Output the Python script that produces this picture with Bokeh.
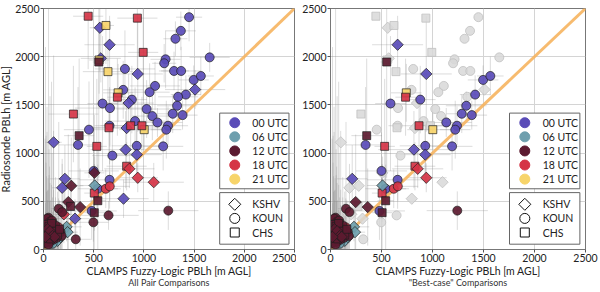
import numpy as np
import pandas as pd
from bokeh.plotting import figure
from bokeh.models import ColumnDataSource, FixedTicker, Range1d, LinearAxis
from bokeh.layouts import row
from bokeh.embed import file_html
from bokeh.resources import INLINE
from bokeh.core.properties import value

# ---------------- data ----------------
clamps_pblh = [445, 935, 1450, 561, 622, 1368, 1314, 658, 993, 571,
               551, 554, 1216, 1202, 1655, 811, 939, 642, 1300, 1371,
               1496, 1567, 794, 1111, 1057, 1510, 743, 736, 1418, 1341,
               880, 848, 588, 662, 1331, 1027, 298, 1084, 1385, 1287,
               1135, 912, 658, 652, 868, 980, 828, 1240, 1223, 453,
               1003, 355, 101, 344, 531, 929, 1192, 818, 929, 686,
               213, 186, 500, 507, 828, 855, 658, 510, 939, 1098,
               541, 277, 620, 660, 506, 797, 1243, 541, 247, 365,
               270, 152, 186, 203, 480, 506, 648, 314, 497, 230,
               240, 321,
               20, 35, 50, 15, 60, 80, 45, 25, 70, 100,
               120, 90, 55, 30, 110, 140, 150, 75, 40, 20,
               60, 130, 170, 180, 95, 10, 50, 35, 65, 85,
               30, 55, 80, 100, 120, 45, 70, 25, 140, 160,
               40, 65, 90, 110, 20,
               60, 100, 130, 80, 150,
               110, 140, 60, 170, 30, 90]
sonde_pblh = [2420, 2400, 2410, 2300, 2324, 2268, 2186, 2124, 2045, 1983,
              1945, 1966, 1973, 1932, 1993, 1873, 1821, 1845, 1852, 1852,
              1759, 1800, 1656, 1697, 1632, 1659, 1625, 1580, 1607, 1584,
              1555, 1519, 1514, 1467, 1491, 1457, 1405, 1384, 1394, 1408,
              1318, 1332, 1284, 1263, 1284, 1284, 1260, 1284, 1243, 1243,
              1243, 1181, 1112, 1085, 1070, 1075, 1070, 1036, 984, 974,
              733, 640, 815, 795, 864, 837, 723, 664, 744, 698,
              630, 661, 630, 655, 585, 527, 403, 506, 492, 440,
              447, 423, 388, 365, 400, 382, 354, 320, 282, 235,
              180, 106,
              300, 280, 330, 250, 260, 240, 220, 200, 210, 230,
              250, 190, 170, 150, 170, 200, 160, 130, 110, 90,
              80, 120, 180, 140, 100, 60, 50, 320, 290, 300,
              260, 240, 270, 160, 190, 140, 110, 180, 150, 210,
              210, 190, 140, 130, 130,
              200, 220, 180, 160, 230,
              100, 90, 120, 130, 80, 60]
hour_utc = ["18 UTC", "18 UTC", "00 UTC", "00 UTC", "21 UTC", "00 UTC", "00 UTC", "00 UTC", "18 UTC", "00 UTC",
            "12 UTC", "21 UTC", "00 UTC", "00 UTC", "00 UTC", "00 UTC", "00 UTC", "21 UTC", "00 UTC", "00 UTC",
            "00 UTC", "00 UTC", "00 UTC", "00 UTC", "00 UTC", "00 UTC", "21 UTC", "18 UTC", "00 UTC", "00 UTC",
            "00 UTC", "00 UTC", "00 UTC", "00 UTC", "00 UTC", "00 UTC", "18 UTC", "00 UTC", "00 UTC", "00 UTC",
            "00 UTC", "00 UTC", "00 UTC", "18 UTC", "18 UTC", "18 UTC", "00 UTC", "00 UTC", "00 UTC", "00 UTC",
            "21 UTC", "12 UTC", "00 UTC", "00 UTC", "18 UTC", "00 UTC", "00 UTC", "00 UTC", "00 UTC", "00 UTC",
            "00 UTC", "00 UTC", "00 UTC", "12 UTC", "18 UTC", "18 UTC", "00 UTC", "06 UTC", "18 UTC", "18 UTC",
            "00 UTC", "12 UTC", "18 UTC", "18 UTC", "18 UTC", "00 UTC", "12 UTC", "12 UTC", "12 UTC", "12 UTC",
            "12 UTC", "12 UTC", "12 UTC", "18 UTC", "00 UTC", "12 UTC", "12 UTC", "00 UTC", "12 UTC", "06 UTC",
            "06 UTC", "12 UTC"] + ["12 UTC"] * 45 + ["18 UTC"] * 5 + ["06 UTC"] * 6
site = ["CHS", "CHS", "KOUN", "KSHV", "CHS", "KOUN", "KOUN", "KSHV", "CHS", "KSHV",
        "CHS", "CHS", "KOUN", "KOUN", "KOUN", "KOUN", "KSHV", "CHS", "KOUN", "KOUN",
        "KOUN", "KOUN", "KOUN", "KOUN", "KOUN", "KSHV", "CHS", "CHS", "KOUN", "KOUN",
        "KOUN", "KSHV", "KOUN", "KOUN", "KOUN", "KOUN", "CHS", "KOUN", "KOUN", "KOUN",
        "KOUN", "KOUN", "KOUN", "CHS", "CHS", "CHS", "KSHV", "KOUN", "KOUN", "KOUN",
        "CHS", "CHS", "KSHV", "KOUN", "CHS", "KOUN", "KOUN", "KSHV", "KSHV", "KOUN",
        "KSHV", "KSHV", "KOUN", "KSHV", "CHS", "KSHV", "KOUN", "KSHV", "KSHV", "KSHV",
        "KOUN", "KSHV", "KOUN", "KOUN", "CHS", "KSHV", "KOUN", "CHS", "KSHV", "KSHV",
        "CHS", "KOUN", "KOUN", "KSHV", "KOUN", "CHS", "KOUN", "KSHV", "KOUN", "KSHV",
        "KSHV", "KOUN"] + ["KOUN"] * 30 + ["CHS"] * 10 + ["KSHV"] * 5 + ["CHS"] * 3 + ["KOUN"] * 2 + ["KSHV"] * 4 + ["KOUN"] * 2
best_case = [0, 0, 0, 0, 0, 0, 0, 1, 0, 0,
             1, 0, 0, 0, 0, 0, 1, 0, 0, 0,
             1, 1, 0, 0, 0, 0, 1, 1, 1, 0,
             1, 0, 1, 0, 1, 0, 0, 0, 1, 1,
             1, 0, 0, 0, 1, 0, 0, 1, 1, 0,
             1, 1, 0, 1, 1, 1, 1, 1, 1, 0,
             1, 0, 1, 0, 1, 1, 1, 1, 1, 0,
             1, 0, 1, 1, 1, 0, 1, 1, 1, 1,
             0, 1, 1, 0, 1, 1, 0, 0, 0, 1,
             1, 0] + [1] * 56
clamps_err = [150, 200, 130, 100, 80, 150, 120, 250, 150, 200,
              60, 100, 150, 120, 200, 300, 250, 250, 150, 200,
              150, 130, 200, 250, 200, 300, 150, 100, 150, 200,
              150, 250, 150, 350, 200, 300, 250, 200, 150, 150,
              250, 300, 150, 200, 300, 150, 350, 200, 150, 250,
              250, 150, 80, 200, 100, 250, 200, 350, 250, 200,
              150, 100, 250, 100, 200, 250, 300, 150, 200, 300,
              200, 120, 150, 200, 100, 250, 300, 80, 100, 120,
              100, 80, 60, 100, 250, 100, 300, 200, 150, 150,
              100, 150,
              30, 40, 25, 20, 50, 60, 30, 30, 40, 50,
              60, 40, 50, 20, 70, 50, 60, 40, 30, 20,
              30, 60, 80, 70, 40, 15, 30, 40, 45, 50,
              20, 30, 40, 50, 60, 30, 40, 30, 50, 70,
              30, 40, 40, 50, 20,
              40, 50, 60, 40, 60,
              50, 60, 30, 60, 20, 40]
sonde_err = [550, 600, 250, 450, 400, 200, 180, 300, 500, 250,
             1200, 350, 300, 200, 150, 400, 600, 300, 200, 250,
             150, 200, 300, 250, 300, 200, 300, 400, 200, 250,
             350, 300, 700, 400, 150, 300, 500, 250, 150, 200,
             150, 350, 400, 300, 250, 300, 300, 200, 300, 500,
             200, 800, 900, 600, 700, 300, 250, 400, 300, 300,
             350, 300, 400, 600, 250, 200, 300, 300, 150, 200,
             250, 500, 200, 150, 300, 200, 200, 600, 700, 400,
             300, 900, 500, 300, 300, 500, 150, 200, 200, 150,
             200, 200,
             1800, 1200, 2200, 900, 600, 1500, 400, 700, 300, 1000,
             500, 350, 600, 450, 250, 400, 300, 200, 500, 300,
             150, 250, 200, 300, 150, 200, 120, 900, 1300, 700,
             500, 800, 400, 300, 350, 600, 250, 1000, 200, 300,
             300, 500, 250, 200, 350,
             300, 400, 200, 250, 300,
             150, 120, 200, 150, 150, 100]

hours = ["00 UTC", "06 UTC", "12 UTC", "18 UTC", "21 UTC"]
hour_colors = ["#5a4cb8", "#6e9fae", "#5c1a30", "#d53446", "#f7d46a"]
hour_draw_order = [0, 3, 4, 2, 1]
sites = ["KSHV", "KOUN", "CHS"]
site_markers = ["square", "circle", "square"]
site_angles = [np.pi / 4, 0.0, 0.0]
site_sizes = [8, 9, 8]
legend_sizes = [8.5, 10, 9]
axis_ticks = [0, 500, 1000, 1500, 2000, 2500]
subtitles = ["All Pair Comparisons", "\"Best-case\" Comparisons"]

FONT = "Lato"

df = pd.DataFrame({"x": clamps_pblh, "y": sonde_pblh, "hour": hour_utc,
                   "site": site, "best": best_case,
                   "xerr": clamps_err, "yerr": sonde_err})
df["color"] = df["hour"].map(dict(zip(hours, hour_colors)))
df["marker"] = df["site"].map(dict(zip(sites, site_markers)))
df["angle"] = df["site"].map(dict(zip(sites, site_angles)))
df["size"] = df["site"].map(dict(zip(sites, site_sizes)))
df["order"] = df["hour"].map(dict(zip(hours, hour_draw_order)))
df["x0"] = df["x"] - df["xerr"]
df["x1"] = df["x"] + df["xerr"]
df["y0"] = df["y"] - df["yerr"]
df["y1"] = df["y"] + df["yerr"]
df = df.sort_values("order", kind="stable")

R = axis_ticks[-1]


def add_manual_legend(p):
    # layout fractions of the axis range (legend boxes live in the lower right)
    left, right = 0.702 * R, 0.978 * R
    pitch = 0.0585 * R
    glyph_x, label_x = 0.762 * R, 0.832 * R
    boxes = [(0.566 * R, 0.252 * R), (0.236 * R, 0.022 * R)]
    for top, bottom in boxes:
        p.quad(left=[left], right=[right], top=[top], bottom=[bottom],
               fill_color="white", line_color="#666666", line_width=1)
    # colour legend
    top, bottom = boxes[0]
    pad = ((top - bottom) - pitch * len(hours)) / 2
    ys = [top - pad - pitch * (i + 0.5) for i in range(len(hours))]
    p.scatter(x=[glyph_x] * len(hours), y=ys, marker="circle", size=10,
              fill_color=hour_colors, line_color=hour_colors)
    p.text(x=[label_x] * len(hours), y=ys, text=hours, text_font=value(FONT),
           text_font_size="10.5px", text_baseline="middle", text_color="#222222")
    # site legend
    top, bottom = boxes[1]
    pad = ((top - bottom) - pitch * len(sites)) / 2
    ys = [top - pad - pitch * (i + 0.5) for i in range(len(sites))]
    p.scatter(x=[glyph_x] * len(sites), y=ys, marker=site_markers, angle=site_angles,
              size=legend_sizes, fill_color="white", line_color="#111111", line_width=1)
    p.text(x=[label_x] * len(sites), y=ys, text=sites, text_font=value(FONT),
           text_font_size="10.5px", text_baseline="middle", text_color="#222222")


def make_panel(best_only, width, bl, br, ylabel, subtitle, margin):
    p = figure(width=width, height=290, output_backend="svg", toolbar_location=None,
               x_range=Range1d(axis_ticks[0], axis_ticks[-1]),
               y_range=Range1d(axis_ticks[0], axis_ticks[-1]),
               min_border_left=bl, min_border_right=br, min_border_top=8,
               min_border_bottom=0, margin=margin)
    p.background_fill_color = "white"
    p.outline_line_color = "#777777"
    p.outline_line_width = 1
    for ax in (p.xaxis, p.yaxis):
        ax.ticker = FixedTicker(ticks=axis_ticks)
        ax.major_label_text_font = FONT
        ax.major_label_text_font_size = "10.5px"
        ax.major_label_text_color = "#222222"
        ax.axis_line_color = "#777777"
        ax.major_tick_line_color = "#555555"
        ax.major_tick_out = 3
        ax.major_tick_in = 0
        ax.minor_tick_line_color = None
        ax.major_label_standoff = 1
        ax.axis_label_text_font = FONT
        ax.axis_label_text_font_style = "normal"
        ax.axis_label_text_color = "#222222"
        ax.axis_label_standoff = 0
    p.xaxis.axis_label = "CLAMPS Fuzzy-Logic PBLh [m AGL]"
    p.xaxis.axis_label_text_font_size = "10.5px"
    p.yaxis.axis_label_text_font_size = "11px"
    p.yaxis.axis_label_standoff = 0
    if ylabel:
        p.yaxis.axis_label = ylabel
    p.grid.grid_line_color = "#d4d4d4"
    p.grid.grid_line_width = 1

    # subtitle as an extra tick-less axis below the x axis
    sub = LinearAxis(ticker=FixedTicker(ticks=[]), axis_label=subtitle,
                     axis_line_color=None, major_tick_line_color=None,
                     minor_tick_line_color=None, major_tick_out=0, major_tick_in=0,
                     major_label_standoff=0, axis_label_standoff=-3,
                     axis_label_text_font=FONT, axis_label_text_font_size="9px",
                     axis_label_text_font_style="normal", axis_label_text_color="#333333")
    p.add_layout(sub, "below")

    if best_only:
        shown = df[df["best"] == 1]
        grey = df[df["best"] == 0]
    else:
        shown = df
        grey = None

    src = ColumnDataSource(shown)
    p.segment(x0="x0", y0="y", x1="x1", y1="y", source=src,
              line_color="#8a8a8a", line_alpha=0.3, line_width=1)
    p.segment(x0="x", y0="y0", x1="x", y1="y1", source=src,
              line_color="#8a8a8a", line_alpha=0.3, line_width=1)

    p.line(x=[axis_ticks[0], axis_ticks[-1]], y=[axis_ticks[0], axis_ticks[-1]],
           line_color="#f6b45f", line_width=3, line_alpha=0.9)

    if grey is not None:
        p.scatter(x="x", y="y", marker="marker", angle="angle", size="size",
                  source=ColumnDataSource(grey), fill_color="#d8d8d8",
                  line_color="#c0c0c0", line_width=0.8, fill_alpha=0.85)

    p.scatter(x="x", y="y", marker="marker", angle="angle", size="size",
              source=src, fill_color="color", line_color="#1e1e1e",
              line_width=0.7, fill_alpha=0.92)

    add_manual_legend(p)
    return p


p1 = make_panel(False, 300, 43, 2, "Radiosonde PBLh [m AGL]", subtitles[0], (0, 0, 0, -4))
p2 = make_panel(True, 304, 34, 15, None, subtitles[1], (0, 0, 0, 0))

layout = row(p1, p2)
open("out.html", "w").write(file_html(layout, INLINE))
